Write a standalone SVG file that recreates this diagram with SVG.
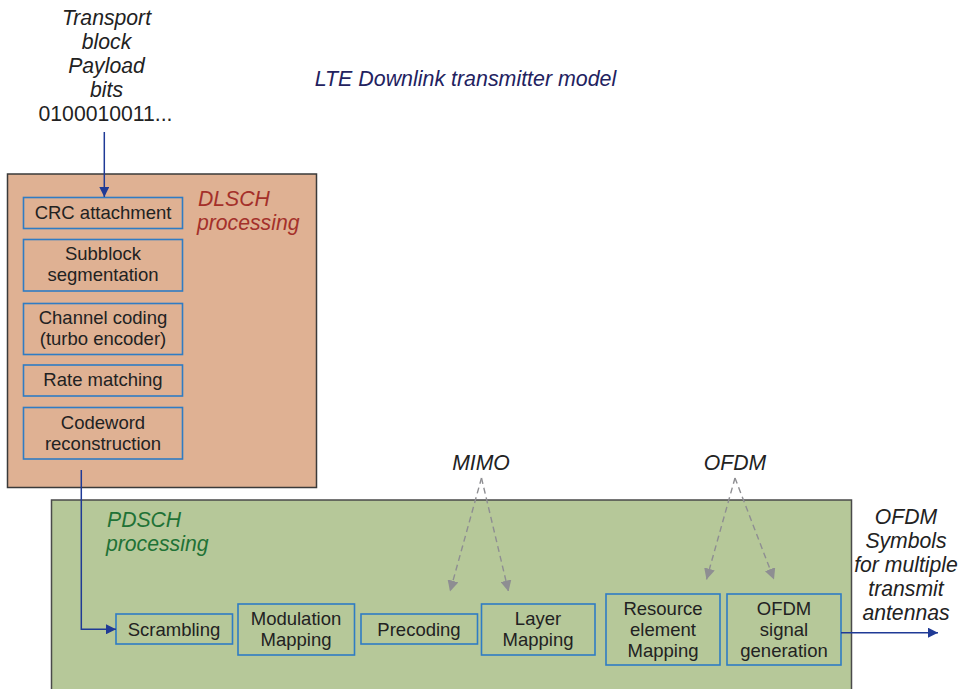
<svg xmlns="http://www.w3.org/2000/svg" width="976" height="689" viewBox="0 0 976 689">
<style>
text{font-family:"Liberation Sans",Arial,sans-serif}
.lbl{font-size:21.2px;font-style:italic;fill:#222;text-anchor:middle}
.box{fill:none;stroke:#2f7cc4;stroke-width:1.6}
.bt{font-size:18.5px;fill:#222;text-anchor:middle}
.conn{fill:none;stroke:#1f3a96;stroke-width:1.5}
.dash{fill:none;stroke:#8e8e92;stroke-width:1.4;stroke-dasharray:6 4}
</style>
<defs>
<marker id="ah" viewBox="0 0 10 10" refX="10" refY="5" markerWidth="10" markerHeight="10" markerUnits="userSpaceOnUse" orient="auto"><path d="M0,0 L10,5 L0,10 z" fill="#1f3a96"/></marker>
<marker id="ag" viewBox="0 0 10 10" refX="10" refY="5" markerWidth="11" markerHeight="11" markerUnits="userSpaceOnUse" orient="auto"><path d="M0,0 L10,5 L0,10 z" fill="#8e8e92"/></marker>
</defs>
<rect width="976" height="689" fill="#fff"/>
<g id="title"><text x="465.5" y="86" style="font-size:21.4px;font-style:italic;fill:#23225f;text-anchor:middle">LTE Downlink transmitter model</text></g>
<g id="input">
<text class="lbl" x="106.5" y="25">Transport</text>
<text class="lbl" x="106.5" y="49">block</text>
<text class="lbl" x="106.5" y="73">Payload</text>
<text class="lbl" x="106.5" y="97">bits</text>
<text x="105.5" y="121" style="font-size:21.2px;fill:#222;text-anchor:middle">0100010011...</text>
</g>
<g id="dlsch">
<rect x="7.5" y="174" width="309" height="313.5" fill="#dfb193" stroke="#3a3a3a" stroke-width="1.5"/>
<text x="198" y="206" style="font-size:21.2px;font-style:italic;fill:#a4302a">DLSCH</text>
<text x="197" y="230" style="font-size:21.2px;font-style:italic;fill:#a4302a">processing</text>
</g>
<g id="pdsch">
<rect x="51.5" y="500" width="800" height="200" fill="#b6c899" stroke="#4a4a4a" stroke-width="1.5"/>
<text x="107" y="527" style="font-size:21.2px;font-style:italic;fill:#1f7236">PDSCH</text>
<text x="106" y="551" style="font-size:21.2px;font-style:italic;fill:#1f7236">processing</text>
</g>
<g id="crc"><rect class="box" x="23.5" y="197.5" width="159" height="31"/><text class="bt" x="103" y="219">CRC attachment</text></g>
<g id="subblock"><rect class="box" x="23.5" y="239.5" width="159" height="51.5"/><text class="bt" x="103" y="260">Subblock</text><text class="bt" x="103" y="281">segmentation</text></g>
<g id="channel"><rect class="box" x="23.5" y="303.5" width="159" height="51"/><text class="bt" x="103" y="324">Channel coding</text><text class="bt" x="103" y="345">(turbo encoder)</text></g>
<g id="rate"><rect class="box" x="23.5" y="365" width="159" height="31"/><text class="bt" x="103" y="386">Rate matching</text></g>
<g id="codeword"><rect class="box" x="23.5" y="407.5" width="159" height="51.5"/><text class="bt" x="103" y="429">Codeword</text><text class="bt" x="103" y="450">reconstruction</text></g>
<g id="scrambling"><rect class="box" x="116" y="614" width="116.5" height="30"/><text class="bt" x="174" y="635.5">Scrambling</text></g>
<g id="modulation"><rect class="box" x="238" y="604" width="116.5" height="51"/><text class="bt" x="296" y="624.5">Modulation</text><text class="bt" x="296" y="645.5">Mapping</text></g>
<g id="precoding"><rect class="box" x="361" y="614" width="116.5" height="30"/><text class="bt" x="419" y="635.5">Precoding</text></g>
<g id="layer"><rect class="box" x="481.5" y="604" width="113.5" height="51"/><text class="bt" x="538" y="624.5">Layer</text><text class="bt" x="538" y="645.5">Mapping</text></g>
<g id="resource"><rect class="box" x="606" y="594" width="114" height="71"/><text class="bt" x="663" y="614.5">Resource</text><text class="bt" x="663" y="635.5">element</text><text class="bt" x="663" y="656.5">Mapping</text></g>
<g id="ofdmgen"><rect class="box" x="727" y="594" width="114" height="71"/><text class="bt" x="784" y="614.5">OFDM</text><text class="bt" x="784" y="635.5">signal</text><text class="bt" x="784" y="656.5">generation</text></g>
<g id="mimo"><text class="lbl" x="481" y="470">MIMO</text></g>
<g id="ofdm"><text class="lbl" x="735" y="470">OFDM</text></g>
<g id="output">
<text class="lbl" x="906" y="524">OFDM</text>
<text class="lbl" x="906" y="548">Symbols</text>
<text class="lbl" x="906" y="572">for multiple</text>
<text class="lbl" x="906" y="596">transmit</text>
<text class="lbl" x="906" y="620">antennas</text>
</g>
<g id="connectors">
<path class="conn" d="M104.3,132 V197" marker-end="url(#ah)"/>
<path class="conn" d="M81.3,470 V629.3 H116" marker-end="url(#ah)"/>
<path class="conn" d="M841,632.7 H938" marker-end="url(#ah)"/>
<path class="dash" d="M481.5,478 L450,591.5" marker-end="url(#ag)"/>
<path class="dash" d="M481.5,478 L508.5,591.5" marker-end="url(#ag)"/>
<path class="dash" d="M735,478 L706.5,579.5" marker-end="url(#ag)"/>
<path class="dash" d="M735,478 L774,579.5" marker-end="url(#ag)"/>
</g>
</svg>
